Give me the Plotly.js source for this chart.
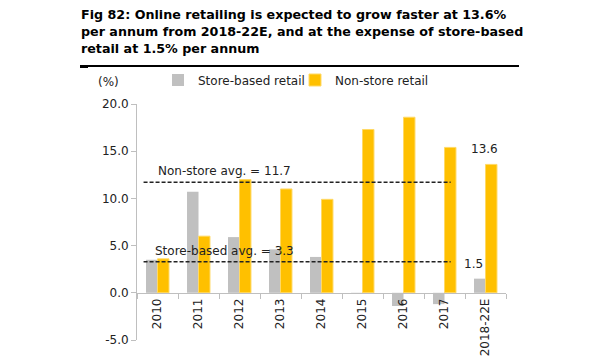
<!DOCTYPE html>
<html>
<head>
<meta charset="utf-8">
<script src="https://cdn.plot.ly/plotly-3.0.1.min.js"></script>
<style>html,body{margin:0;padding:0;background:#fff;}#chart{width:600px;height:360px;}</style>
</head>
<body>
<div id="chart"></div>
<script>
const categories = ['2010','2011','2012','2013','2014','2015','2016','2017','2018-22E'];
const storeBased = [3.5, 10.7, 5.9, 4.6, 3.8, -0.1, -1.4, -1.2, 1.5];
const nonStore = [3.6, 6.0, 12.0, 11.0, 9.9, 17.3, 18.6, 15.4, 13.6];
const nonStoreAvg = 11.7;
const storeAvg = 3.3;
const yTicks = [-5, 0, 5, 10, 15, 20];
const yTickText = ['-5.0', '0.0', '5.0', '10.0', '15.0', '20.0'];
const titleLines = [
  'Fig 82: Online retailing is expected to grow faster at 13.6%',
  'per annum from 2018-22E, and at the expense of store-based',
  'retail at 1.5% per annum'
];

const F = 'DejaVu Sans, Verdana, sans-serif';
const L = 137, R = 506, T = 104, B = 340;
const px = v => (v - L) / (R - L);
const py = v => (B - v) / (B - T);

const data = [
  {type:'bar', name:'Store-based retail', x:categories, y:storeBased, marker:{color:'#c0c0c0'}},
  {type:'bar', name:'Non-store retail', x:categories, y:nonStore, marker:{color:'#ffc000', line:{color:'#ffd966', width:1}}}
];

const last = categories[categories.length-1];
const annotations = titleLines.map((t, i) => ({
  xref:'paper', yref:'paper', x:px(79), y:py(15 + 17*i), xanchor:'left', yanchor:'middle',
  text:'<b>' + t + '</b>', showarrow:false, font:{family:F, size:12.7, color:'#000'}
}));
annotations.push(
  {xref:'paper', yref:'paper', x:px(108), y:py(82), xanchor:'center', yanchor:'middle', text:'(%)', showarrow:false, font:{family:F, size:12, color:'#222'}},
  {xref:'x', yref:'y', x:-0.03, y:nonStoreAvg, text:'Non-store avg. = 11.7', xanchor:'left', yanchor:'bottom', yshift:2, showarrow:false, font:{family:F, size:12, color:'#222'}},
  {xref:'x', yref:'y', x:-0.1, y:storeAvg, text:'Store-based avg. = 3.3', xanchor:'left', yanchor:'bottom', yshift:2, showarrow:false, font:{family:F, size:12, color:'#222'}},
  {xref:'x', yref:'y', x:last, y:nonStore[8], text:nonStore[8].toFixed(1), xshift:-1, yanchor:'bottom', yshift:6, showarrow:false, font:{family:F, size:12, color:'#222'}},
  {xref:'x', yref:'y', x:last, y:storeBased[8], text:storeBased[8].toFixed(1), xshift:-12, yanchor:'bottom', yshift:6, showarrow:false, font:{family:F, size:12, color:'#222'}}
);

const layout = {
  width:600, height:360,
  margin:{l:L, r:600-R, t:T, b:360-B},
  paper_bgcolor:'#fff', plot_bgcolor:'#fff',
  barmode:'group', bargap:0.44, bargroupgap:0,
  font:{family:F, size:12, color:'#222'},
  showlegend:true,
  legend:{orientation:'h', x:px(158), xanchor:'left', y:py(80), yanchor:'middle',
    font:{family:F, size:12, color:'#222'}, bgcolor:'rgba(0,0,0,0)', itemwidth:30,
    traceorder:'normal', entrywidth:92, entrywidthmode:'pixels'},
  xaxis:{type:'category', anchor:'free', position:0.2, showline:true, linecolor:'#bfbfbf', linewidth:1,
    ticks:'outside', tickson:'boundaries', ticklen:5, tickcolor:'#bfbfbf', tickangle:-90,
    showgrid:false, zeroline:false, tickfont:{family:F, size:12, color:'#222'}},
  yaxis:{range:[-5,20], tickvals:yTicks, ticktext:yTickText, showline:true, linecolor:'#bfbfbf', linewidth:1,
    ticks:'outside', ticklen:5, tickcolor:'#bfbfbf', showgrid:false, zeroline:false,
    tickfont:{family:F, size:12, color:'#222'}},
  shapes:[
    {type:'line', xref:'x', yref:'y', x0:-0.34, x1:7.15, y0:nonStoreAvg, y1:nonStoreAvg, line:{color:'#222', width:1.5, dash:'4px,2px'}},
    {type:'line', xref:'x', yref:'y', x0:-0.34, x1:7.15, y0:storeAvg, y1:storeAvg, line:{color:'#222', width:1.5, dash:'4px,2px'}},
    {type:'line', xref:'paper', yref:'paper', x0:px(80), x1:px(519), y0:py(66), y1:py(66), line:{color:'#000', width:2}},
    {type:'line', xref:'paper', yref:'paper', x0:px(80), x1:px(88), y0:py(66.5), y1:py(66.5), line:{color:'#000', width:3}}
  ],
  annotations:annotations
};

Plotly.newPlot('chart', data, layout, {displayModeBar:false, staticPlot:true});
</script>
</body>
</html>
